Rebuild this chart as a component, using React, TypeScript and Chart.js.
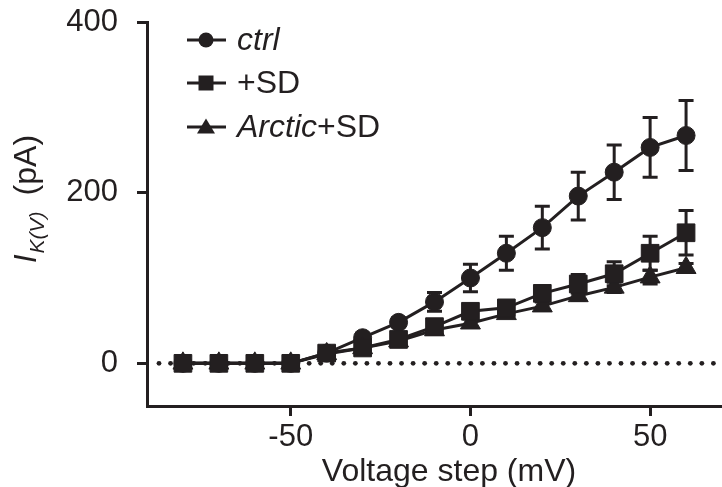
import React, { useEffect, useRef } from 'react';
import { Chart, registerables } from 'chart.js';

Chart.register(...registerables);

const voltages = [-80, -70, -60, -50, -40, -30, -20, -10, 0, 10, 20, 30, 40, 50, 60];
const ctrlMean = [0, 0, 0, 0, 12, 30, 48, 72, 100, 129, 159, 196, 224, 253, 267];
const ctrlSem = [0, 0, 0, 0, 2, 4, 5, 11, 16, 20, 25, 28, 32, 35, 41];
const sdMean = [0, 0, 0, 0, 12, 18, 28, 43, 61, 65, 82, 93, 105, 129, 153];
const sdSem = [0, 0, 0, 0, 2, 3, 4, 6, 8, 6, 6, 11, 14, 20, 26];
const arcticMean = [0, 0, 0, 0, 11, 18, 26, 39, 47, 58, 67, 79, 89, 101, 112];
const arcticSem = [0, 0, 0, 0, 1, 2, 3, 4, 5, 4, 5, 5, 6, 8, 5];
const xTicks = [-50, 0, 50];
const yTicks = [0, 200, 400];

const INK = '#231f20';
const FONT = '"Liberation Sans", Arial, Helvetica, sans-serif';

const semByLabel: Record<string, number[]> = {
  ctrl: ctrlSem,
  '+SD': sdSem,
  'Arctic+SD': arcticSem,
};

const errorBarPlugin = {
  id: 'errorBars',
  beforeDatasetsDraw(chart: any) {
    const { ctx } = chart;
    const xs = chart.scales.x;
    const ys = chart.scales.y;
    ctx.save();
    ctx.strokeStyle = INK;
    ctx.fillStyle = INK;
    ctx.lineWidth = 3;
    chart.data.datasets.forEach((ds: any) => {
      const sem = semByLabel[ds.label];
      ds.data.forEach((p: any, i: number) => {
        const e = sem[i];
        if (!e) return;
        const x = xs.getPixelForValue(p.x);
        const yTop = ys.getPixelForValue(p.y + e);
        const yBot = ys.getPixelForValue(p.y - e);
        ctx.beginPath();
        ctx.moveTo(x, yTop);
        ctx.lineTo(x, yBot);
        ctx.moveTo(x - 7.5, yTop);
        ctx.lineTo(x + 7.5, yTop);
        ctx.moveTo(x - 7.5, yBot);
        ctx.lineTo(x + 7.5, yBot);
        ctx.stroke();
      });
    });
    // dotted zero line
    const y0 = ys.getPixelForValue(0);
    const start = chart.chartArea.left + 12;
    for (let x = start; x <= chart.chartArea.right; x += 11.55) {
      ctx.beginPath();
      ctx.arc(x, y0, 2.4, 0, Math.PI * 2);
      ctx.fill();
    }
    ctx.restore();
  },
};

const drawMarker = (ctx: CanvasRenderingContext2D, kind: string, x: number, y: number) => {
  ctx.beginPath();
  if (kind === 'circle') {
    ctx.arc(x, y, 7.5, 0, Math.PI * 2);
  } else if (kind === 'rect') {
    ctx.rect(x - 7.5, y - 7.5, 15, 15);
  } else {
    ctx.moveTo(x, y - 8.5);
    ctx.lineTo(x + 9, y + 6.5);
    ctx.lineTo(x - 9, y + 6.5);
    ctx.closePath();
  }
  ctx.fill();
};

const textPlugin = {
  id: 'texts',
  afterDraw(chart: any) {
    const { ctx } = chart;
    ctx.save();
    ctx.fillStyle = INK;
    ctx.strokeStyle = INK;

    // legend
    const rows = [
      { y: 40, kind: 'circle', parts: [{ t: 'ctrl', it: true }] },
      { y: 83, kind: 'rect', parts: [{ t: '+SD', it: false }] },
      { y: 127, kind: 'triangle', parts: [{ t: 'Arctic', it: true }, { t: '+SD', it: false }] },
    ];
    rows.forEach((r) => {
      ctx.lineWidth = 3;
      ctx.beginPath();
      ctx.moveTo(187, r.y);
      ctx.lineTo(226, r.y);
      ctx.stroke();
      drawMarker(ctx, r.kind, 206, r.y);
      let x = 237;
      ctx.textBaseline = 'middle';
      ctx.textAlign = 'left';
      r.parts.forEach((p) => {
        ctx.font = `${p.it ? 'italic ' : ''}32px ${FONT}`;
        ctx.fillText(p.t, x, r.y + 1);
        x += ctx.measureText(p.t).width;
      });
    });

    // x title
    ctx.textBaseline = 'alphabetic';
    ctx.textAlign = 'center';
    ctx.font = `32px ${FONT}`;
    ctx.fillText('Voltage step (mV)', 449, 481);

    // y title
    ctx.translate(36, 263);
    ctx.rotate(-Math.PI / 2);
    ctx.textAlign = 'left';
    ctx.font = `italic 31px ${FONT}`;
    ctx.fillText('I', 0, 0);
    let w = ctx.measureText('I').width + 1;
    ctx.font = `italic 21px ${FONT}`;
    ctx.fillText('K(V)', w, 8);
    w += ctx.measureText('K(V)').width + 16;
    ctx.font = `32px ${FONT}`;
    ctx.fillText('(pA)', w, 0);
    ctx.restore();
  },
};

export default function App() {
  const ref = useRef<HTMLCanvasElement | null>(null);
  useEffect(() => {
    if (!ref.current) return;
    const mk = (label: string, means: number[], style: string, radius: number, order: number) => ({
      label,
      data: voltages.map((v, i) => ({ x: v, y: means[i] })),
      borderColor: INK,
      backgroundColor: INK,
      borderWidth: 3,
      pointStyle: style,
      pointRadius: radius,
      pointBorderWidth: 1,
      pointBorderColor: INK,
      pointBackgroundColor: INK,
      tension: 0,
      order,
    });
    const chart = new Chart(ref.current, {
      type: 'line',
      data: {
        datasets: [
          mk('ctrl', ctrlMean, 'circle', 9, 2),
          mk('+SD', sdMean, 'rect', 12.5, 0),
          mk('Arctic+SD', arcticMean, 'triangle', 11.5, 1),
        ],
      },
      options: {
        animation: false,
        responsive: false,
        devicePixelRatio: 1,
        layout: { autoPadding: false, padding: { top: 22, right: 0, bottom: 0, left: 0 } },
        plugins: { legend: { display: false }, tooltip: { enabled: false }, title: { display: false } },
        scales: {
          x: {
            type: 'linear',
            min: -90,
            max: 70,
            afterFit: (s: any) => { s.height = 81; s.paddingLeft = 0; s.paddingRight = 0; },
            afterBuildTicks: (s: any) => { s.ticks = xTicks.map((v) => ({ value: v })); },
            grid: { display: true, drawOnChartArea: false, drawTicks: true, tickLength: 10, tickWidth: 3, tickColor: INK, color: INK },
            border: { display: true, color: INK, width: 3 },
            ticks: { color: INK, font: { family: FONT, size: 31 }, padding: 3, maxRotation: 0, autoSkip: false },
          },
          y: {
            type: 'linear',
            min: -50,
            max: 400,
            afterFit: (s: any) => { s.width = 147; s.paddingTop = 0; s.paddingBottom = 0; },
            afterBuildTicks: (s: any) => { s.ticks = yTicks.map((v) => ({ value: v })); },
            grid: { display: true, drawOnChartArea: false, drawTicks: true, tickLength: 10, tickWidth: 3, tickColor: INK, color: INK },
            border: { display: true, color: INK, width: 3 },
            ticks: { color: INK, font: { family: FONT, size: 31 }, padding: 19, autoSkip: false },
          },
        },
      },
      plugins: [errorBarPlugin, textPlugin],
    } as any);
    return () => chart.destroy();
  }, []);
  return (
    <div style={{ position: 'fixed', left: 0, top: 0, width: 722, height: 487, background: '#fff' }}>
      <canvas ref={ref} width={722} height={487} style={{ display: 'block' }} />
    </div>
  );
}
